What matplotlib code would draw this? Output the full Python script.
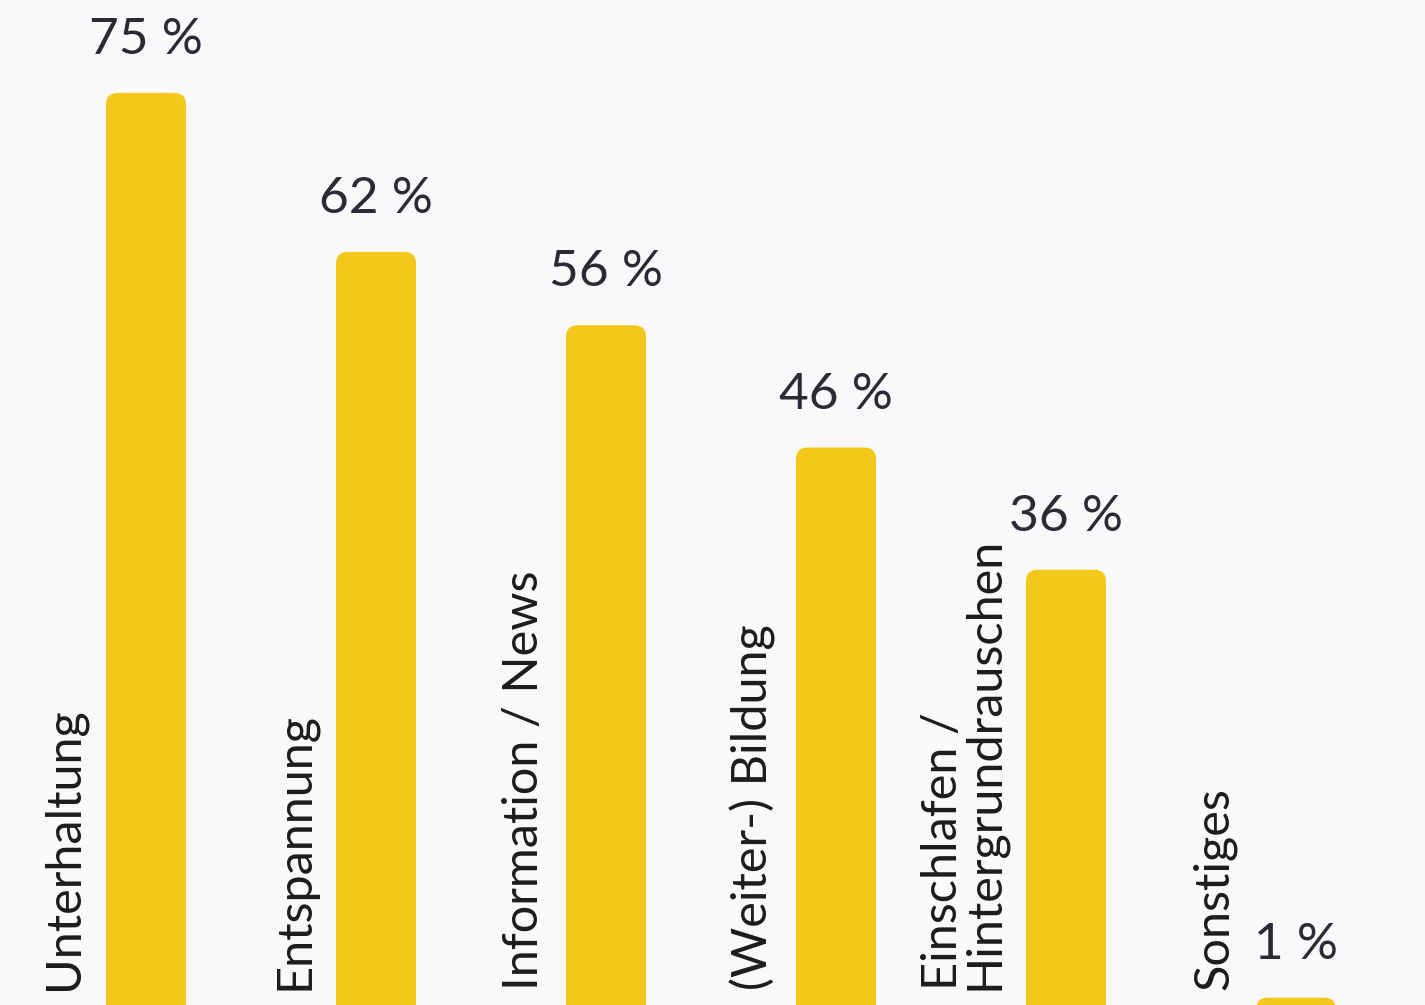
import matplotlib
matplotlib.use("Agg")
import matplotlib.pyplot as plt
from matplotlib.patches import FancyBboxPatch

categories = ["Unterhaltung", "Entspannung", "Information / News",
              "(Weiter-) Bildung", "Einschlafen /\nHintergrundrauschen",
              "Sonstiges"]
values = [75, 62, 56, 46, 36, 1]
value_labels = ["75 %", "62 %", "56 %", "46 %", "36 %", "1 %"]

BG = "#f9f9fc"
BAR = "#f4c71b"
TEXT = "#2b2b35"

plt.rcParams["font.family"] = ["Lato", "DejaVu Sans"]

fig = plt.figure(figsize=(14.25, 10.05), dpi=100, facecolor=BG)
ax = fig.add_axes([0, 0, 1, 1])
ax.set_facecolor(BG)
ax.set_xlim(-0.635, 5.561)
ax.set_ylim(0.4, 82.6)
ax.axis("off")

width = 0.348
for i, v in enumerate(values):
    # bars start below the visible area so only the top corners are rounded
    bar = FancyBboxPatch((i - width / 2, -3), width, v + 3,
                         boxstyle="round,pad=0,rounding_size=0.052",
                         mutation_aspect=18.8, facecolor=BAR,
                         edgecolor="none")
    ax.add_patch(bar)
    ax.annotate(value_labels[i], (i, v), xytext=(0, 28),
                textcoords="offset points", ha="center", va="baseline",
                fontsize=37, color=TEXT)
    ax.text(i - 0.26, 1.6, categories[i], rotation=90,
            rotation_mode="anchor", ha="left", va="bottom",
            fontsize=35, color="#1c1c1c", linespacing=0.92)

fig.savefig("out.png", dpi=100, facecolor=BG)
